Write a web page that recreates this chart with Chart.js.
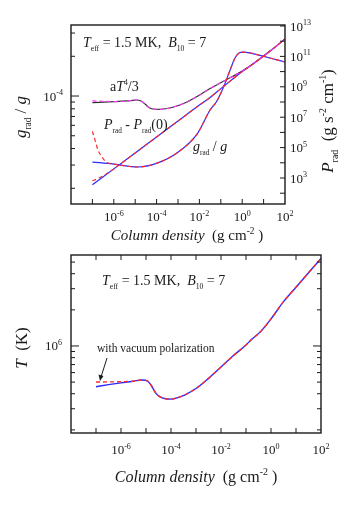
<!DOCTYPE html>
<html>
<head>
<meta charset="utf-8">
<script src="https://cdn.jsdelivr.net/npm/chart.js@4"></script>
<style>
  html, body { margin: 0; padding: 0; background: #fff; }
  #wrap { position: relative; width: 357px; height: 511px; }
  canvas { position: absolute; left: 0; top: 0; }
</style>
</head>
<body>
<div id="wrap">
  <canvas id="graficaArriba" width="357" height="511"></canvas>
  <canvas id="graficaAbajo" width="357" height="511"></canvas>
</div>
<script>
// ---- top panel: g_rad/g (left axis), P_rad and aT^4/3 (right axis)
const gCol = [1e-7, 1e-6, 1.35e-5, 1.05e-4, 8.9e-4, 7.8e-3, 0.0316, 0.066, 0.14, 0.27, 0.46, 0.71, 1.1, 2.3, 6.8, 20, 100];
const gRad = [3.16e-5, 3.05e-5, 2.90e-5, 3.10e-5, 3.70e-5, 5.15e-5, 7.83e-5, 9.16e-5, 1.19e-4, 1.57e-4, 1.94e-4, 2.12e-4, 2.15e-4, 2.12e-4, 2.03e-4, 1.94e-4, 1.81e-4];
const gColVP = [1e-7, 1.32e-7, 1.82e-7, 2.8e-7, 4.8e-7];
const gRadVP = [5.4e-5, 4.65e-5, 3.9e-5, 3.45e-5, 3.13e-5];

const pCol = [1e-7, 1e-6, 1e-5, 1e-4, 1e-3, 1e-2, 0.0316, 0.1, 0.316, 1, 3.16, 20, 100];
const pRad = [363, 3.98e3, 4.47e4, 5.0e5, 5.6e6, 6.3e7, 2.0e8, 7.6e8, 2.8e9, 1e10, 3.16e10, 2.24e11, 1.38e12];
const pColVP = [1e-7, 2e-7, 4.8e-7];
const pRadVP = [631, 1000, 2.0e3];

const aCol = [1e-7, 1e-6, 5.75e-6, 1.2e-5, 1.86e-5, 2.88e-5, 4.37e-5, 6.76e-5, 1.45e-4, 3.1e-4, 8.9e-4, 2.63e-3, 8.5e-3, 0.0316, 0.158, 0.794, 3.16, 20, 100];
const aT4 = [9.0e7, 1.07e8, 1.23e8, 1.35e8, 1.17e8, 7.4e7, 4.37e7, 3.47e7, 3.31e7, 3.72e7, 5.5e7, 1e8, 2.45e8, 7.76e8, 2.63e9, 8.9e9, 3.16e10, 2.24e11, 1.38e12];
const aColVP = [1e-7, 3.16e-7];
const aT4VP = [1.17e8, 1.12e8];

// ---- bottom panel: T
const tCol = [1e-7, 3.16e-7, 1e-6, 3.16e-6, 6.9e-6, 1.12e-5, 1.58e-5, 2.5e-5, 4e-5, 6.3e-5, 1e-4, 2e-4, 4e-4, 1e-3, 3.16e-3, 1e-2, 3.16e-2, 0.1, 0.158, 0.4, 1, 3.16, 10, 31.6, 100];
const tK = [4.58e5, 4.76e5, 4.93e5, 5.09e5, 5.21e5, 5.13e5, 4.73e5, 4.03e5, 3.73e5, 3.63e5, 3.61e5, 3.73e5, 3.96e5, 4.42e5, 5.37e5, 6.68e5, 8.32e5, 1.02e6, 1.12e6, 1.33e6, 1.68e6, 2.34e6, 3.09e6, 4.07e6, 5.37e6];
const tColVP = [1e-7, 3.16e-7, 1e-6];
const tKVP = [5.01e5, 5.02e5, 5.04e5];

// ticks
const xTicks = [1e-7, 1e-6, 1e-5, 1e-4, 1e-3, 1e-2, 1e-1, 1, 10];
const xLabelExp = [-6, -4, -2, 0, 2];
const gMinor = [2e-5, 3e-5, 4e-5, 5e-5, 6e-5, 7e-5, 8e-5, 9e-5, 2e-4, 3e-4];
const gMajor = [1e-4];
const pTicks = [1e2, 1e3, 1e4, 1e5, 1e6, 1e7, 1e8, 1e9, 1e10, 1e11, 1e12, 1e13];
const pLabelExp = [3, 5, 7, 9, 11, 13];
const tMinor = [2e5, 3e5, 4e5, 5e5, 6e5, 7e5, 8e5, 9e5, 2e6, 3e6, 4e6, 5e6];
const tMajor = [1e6];

const SERIF = '"Liberation Serif", "Times New Roman", serif';
const INK = '#1a1a1a';
const BLUE = '#2a2aff';
const RED = '#ff2a2a';

const pts = (xs, ys) => xs.map((x, i) => ({ x, y: ys[i] }));
const withVP = (hx, hy, xs, ys) => pts(hx, hy).concat(pts(xs, ys).filter(p => p.x > hx[hx.length - 1]));

function rich(ctx, x, y, parts, size, align, small) {
  small = small || 0.62;
  const seg = parts.map(([t, s]) => {
    s = s || '';
    const low = s.includes('^') || s.includes('_');
    const fs = low ? size * small : size;
    const font = (s.includes('i') ? 'italic ' : '') + fs + 'px ' + SERIF;
    ctx.font = font;
    return { t, font, w: ctx.measureText(t).width, dy: s.includes('^') ? -size * 0.42 : s.includes('_') ? size * 0.3 : 0 };
  });
  const total = seg.reduce((a, s) => a + s.w, 0);
  let cx = align === 'center' ? x - total / 2 : align === 'right' ? x - total : x;
  ctx.textAlign = 'left';
  ctx.textBaseline = 'alphabetic';
  seg.forEach(s => { ctx.font = s.font; ctx.fillText(s.t, cx, y + s.dy); cx += s.w; });
}

function rotated(ctx, x, y, parts, size, small) {
  ctx.save();
  ctx.translate(x, y);
  ctx.rotate(-Math.PI / 2);
  rich(ctx, 0, 0, parts, size, 'center', small);
  ctx.restore();
}

function tick(ctx, x1, y1, x2, y2) {
  ctx.beginPath();
  ctx.moveTo(x1, y1);
  ctx.lineTo(x2, y2);
  ctx.stroke();
}

const pow10 = e => [['10'], [String(e), '^']];

const linea = (data, color, axis, extra) => Object.assign({
  data, yAxisID: axis, borderColor: color, borderWidth: 1.2, pointRadius: 0,
  fill: false, cubicInterpolationMode: 'monotone'
}, extra || {});

const marcoArriba = {
  id: 'marcoArriba',
  afterDraw(chart) {
    const ctx = chart.ctx, a = chart.chartArea, s = chart.scales;
    ctx.save();
    ctx.strokeStyle = INK; ctx.fillStyle = INK; ctx.lineWidth = 1;
    xTicks.forEach(v => { const px = s.x.getPixelForValue(v); tick(ctx, px, a.bottom, px, a.bottom - 5); });
    gMinor.forEach(v => { const py = s.yG.getPixelForValue(v); tick(ctx, a.left, py, a.left + 4, py); });
    gMajor.forEach(v => { const py = s.yG.getPixelForValue(v); tick(ctx, a.left, py, a.left + 8, py); });
    pTicks.forEach(v => { const py = s.yP.getPixelForValue(v); tick(ctx, a.right, py, a.right - 5, py); });
    ctx.lineWidth = 1.4;
    ctx.strokeRect(a.left, a.top, a.right - a.left, a.bottom - a.top);

    xLabelExp.forEach(e => rich(ctx, s.x.getPixelForValue(Math.pow(10, e)), a.bottom + 17, pow10(e), 13, 'center'));
    gMajor.forEach(v => rich(ctx, a.left - 8, s.yG.getPixelForValue(v) + 4.5, pow10(Math.round(Math.log10(v))), 13, 'right'));
    pLabelExp.forEach(e => rich(ctx, a.right + 5, s.yP.getPixelForValue(Math.pow(10, e)) + 4.5, pow10(e), 13, 'left'));

    rich(ctx, 187, 240, [['Column density', 'i'], ['  (g cm'], ['-2', '^'], [' )']], 15, 'center');
    rotated(ctx, 26, 117, [['g', 'i'], ['rad', '_'], [' / '], ['g', 'i']], 17, 0.55);
    rotated(ctx, 333, 121, [['P', 'i'], ['rad', '_'], ['  (g s'], ['-2', '^'], [' cm'], ['-1', '^'], [')']], 17, 0.58);

    rich(ctx, 83, 47, [['T', 'i'], ['eff', '_'], [' = 1.5 MK,  '], ['B', 'i'], ['10', '_'], [' = 7']], 14, 'left', 0.55);
    rich(ctx, 110, 91, [['a'], ['T', 'i'], ['4', '^'], ['/3']], 14, 'left', 0.55);
    rich(ctx, 104, 129, [['P', 'i'], ['rad', '_'], [' - '], ['P', 'i'], ['rad', '_'], ['(0)']], 14, 'left', 0.52);
    rich(ctx, 193, 151, [['g', 'i'], ['rad', '_'], [' / '], ['g', 'i']], 14, 'left', 0.52);
    ctx.restore();
  }
};

const marcoAbajo = {
  id: 'marcoAbajo',
  afterDraw(chart) {
    const ctx = chart.ctx, a = chart.chartArea, s = chart.scales;
    ctx.save();
    ctx.strokeStyle = INK; ctx.fillStyle = INK; ctx.lineWidth = 1;
    xTicks.forEach(v => {
      const px = s.x.getPixelForValue(v);
      tick(ctx, px, a.bottom, px, a.bottom - 5);
      tick(ctx, px, a.top, px, a.top + 5);
    });
    tMinor.forEach(v => {
      const py = s.y.getPixelForValue(v);
      tick(ctx, a.left, py, a.left + 4, py);
      tick(ctx, a.right, py, a.right - 4, py);
    });
    tMajor.forEach(v => {
      const py = s.y.getPixelForValue(v);
      tick(ctx, a.left, py, a.left + 8, py);
      tick(ctx, a.right, py, a.right - 8, py);
    });
    ctx.lineWidth = 1.4;
    ctx.strokeRect(a.left, a.top, a.right - a.left, a.bottom - a.top);

    xLabelExp.forEach(e => rich(ctx, s.x.getPixelForValue(Math.pow(10, e)), a.bottom + 21, pow10(e), 13, 'center'));
    tMajor.forEach(v => rich(ctx, a.left - 9, s.y.getPixelForValue(v) + 4.5, pow10(Math.round(Math.log10(v))), 13, 'right'));

    rich(ctx, 196, 482, [['Column density', 'i'], ['  (g cm'], ['-2', '^'], [' )']], 16, 'center');
    rotated(ctx, 27, 348, [['T', 'i'], ['  (K)']], 17);

    rich(ctx, 102, 285, [['T', 'i'], ['eff', '_'], [' = 1.5 MK,  '], ['B', 'i'], ['10', '_'], [' = 7']], 14, 'left', 0.55);
    rich(ctx, 97, 352, [['with vacuum polarization']], 11.5, 'left');

    // flecha
    ctx.lineWidth = 1;
    tick(ctx, 107, 358, 101, 377);
    ctx.beginPath();
    ctx.moveTo(100, 381);
    ctx.lineTo(98.5, 374.5);
    ctx.lineTo(103.5, 376);
    ctx.closePath();
    ctx.fill();
    ctx.restore();
  }
};

const comunes = {
  responsive: false,
  animation: false,
  devicePixelRatio: 1,
  plugins: { legend: { display: false }, tooltip: { enabled: false } }
};

new Chart(document.getElementById('graficaArriba'), {
  type: 'line',
  data: {
    datasets: [
      linea(withVP(gColVP, gRadVP, gCol, gRad), RED, 'yG', { borderDash: [4, 3], order: 0 }),
      linea(pts(gCol, gRad), BLUE, 'yG', { order: 1 }),
      linea(withVP(pColVP, pRadVP, pCol, pRad), RED, 'yP', { borderDash: [4, 3], order: 0 }),
      linea(pts(pCol, pRad), BLUE, 'yP', { order: 1 }),
      linea(withVP(aColVP, aT4VP, aCol, aT4), '#ff33ff', 'yP', { borderDash: [4, 3], order: 0 }),
      linea(pts(aCol, aT4), '#333333', 'yP', { order: 1 })
    ]
  },
  options: Object.assign({}, comunes, {
    layout: { padding: { left: 71, right: 72, top: 25, bottom: 307 } },
    scales: {
      x: { type: 'logarithmic', min: 1e-8, max: 100, display: false },
      yG: { type: 'logarithmic', position: 'left', min: Math.pow(10, -4.818), max: Math.pow(10, -3.462), display: false },
      yP: { type: 'logarithmic', position: 'right', min: Math.pow(10, 1.29), max: Math.pow(10, 13.066), display: false }
    }
  }),
  plugins: [marcoArriba]
});

new Chart(document.getElementById('graficaAbajo'), {
  type: 'line',
  data: {
    datasets: [
      linea(withVP(tColVP, tKVP, tCol, tK), RED, 'y', { borderDash: [4, 3], order: 0, borderWidth: 1.4 }),
      linea(pts(tCol, tK), BLUE, 'y', { order: 1, borderWidth: 1.4 })
    ]
  },
  options: Object.assign({}, comunes, {
    layout: { padding: { left: 71, right: 36, top: 255, bottom: 78 } },
    scales: {
      x: { type: 'logarithmic', min: 1e-8, max: 100, display: false },
      y: { type: 'logarithmic', min: Math.pow(10, 5.275), max: Math.pow(10, 6.758), display: false }
    }
  }),
  plugins: [marcoAbajo]
});
</script>
</body>
</html>
